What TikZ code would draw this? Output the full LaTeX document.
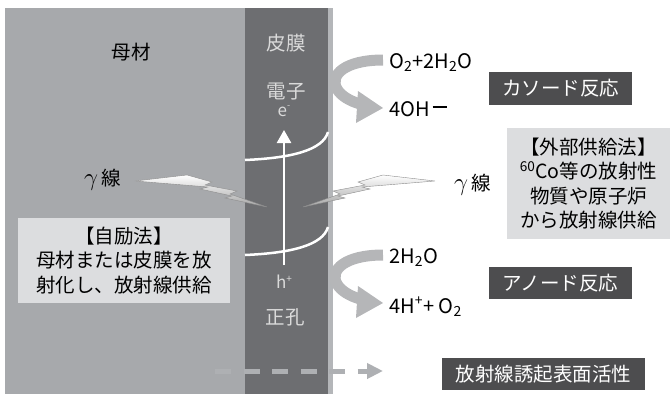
\documentclass[tikz,border=0pt]{standalone}
\usepackage{fontspec}
\setmainfont{Noto Sans CJK JP}
\usetikzlibrary{arrows.meta}
\definecolor{basegray}{HTML}{A7A9AC}
\definecolor{filmgray}{HTML}{6D6E71}
\definecolor{stripgray}{HTML}{B4B6B9}
\definecolor{darkbox}{HTML}{4D4D4F}
\definecolor{lightbox}{HTML}{DCDDDF}
\definecolor{arrowgray}{HTML}{B5B6B8}
\definecolor{filmtext}{HTML}{DADADA}
\definecolor{dashgray}{HTML}{AEB0B3}
\tikzset{
  cjk/.style={font=\fontsize{19.5pt}{24pt}\selectfont, inner sep=0pt},
  filmlabel/.style={cjk, text=filmtext},
  chem/.style={font=\fontsize{20pt}{24pt}\selectfont, inner sep=0pt, anchor=base west},
  darklabel/.style={fill=darkbox, text=white, font=\fontsize{19.5pt}{24pt}\selectfont, inner sep=0pt},
  lightlabel/.style={fill=lightbox, text=black, font=\fontsize{19.5pt}{24.5pt}\selectfont, inner sep=0pt, align=center},
  bolt/.style={draw=black!45, line width=0.4pt, shading=axis, top color=white, bottom color=black!35},
  reactband/.style={line width=11pt, arrowgray},
  whitearc/.style={draw=white, line width=2.5pt}
}
\begin{document}
\begin{tikzpicture}[x=1pt,y=-1pt]
\useasboundingbox (0,0) rectangle (670,394);
% base material and film
\fill[basegray] (5,8) rectangle (245,394);
\fill[filmgray] (245,8) rectangle (328,394);
\fill[stripgray] (328,8) rectangle (333,394);
% white arcs
\draw[whitearc] (245,160) .. controls (292,158) and (323,150) .. (328,132);
\draw[whitearc] (245,255) .. controls (292,253) and (323,245) .. (328,227);
% vertical arrow
\coordinate (vbot) at (284,265);
\coordinate (vtop) at (284,130);
\draw[white, line width=2.5pt, -{Triangle[length=13pt 0,width=14pt 0]}] (vbot) -- (vtop);
% labels
\node[cjk] (base) at (131,52) {母材};
\node[filmlabel] (film) at (286,43) {皮膜};
\node[filmlabel] (elec) at (286,92) {電子};
\node[filmlabel, font=\fontsize{17pt}{20pt}\selectfont] (em) at (284,111) {e\raisebox{0.45em}{\fontsize{9pt}{9pt}\selectfont -}};
\node[filmlabel, font=\fontsize{17pt}{20pt}\selectfont] (hp) at (284,282) {h\raisebox{0.35em}{\fontsize{10pt}{10pt}\selectfont +}};
\node[filmlabel] (hole) at (285,317) {正孔};
% bolts
\path[bolt] (435,181) -- (383,175) -- (358,182) -- (365,185) -- (333,191) -- (340,194) -- (303,207) -- (345,198) -- (338,196) -- (370,189) -- (362,187) -- cycle;
\path[bolt] (135,181) -- (187,175) -- (212,182) -- (205,185) -- (237,191) -- (230,194) -- (267,207) -- (225,198) -- (232,196) -- (200,189) -- (208,187) -- cycle;
\node[cjk, anchor=west] (gl) at (84,180) {\fontsize{25pt}{25pt}\selectfont$\gamma$\hspace{3pt}\fontsize{19.5pt}{24pt}\selectfont 線};
\node[cjk, anchor=west] (gr) at (454,185) {\fontsize{25pt}{25pt}\selectfont$\gamma$\hspace{3pt}\fontsize{19.5pt}{24pt}\selectfont 線};
% curved reaction arrows
\foreach \dy in {0,195}{
  \begin{scope}[yshift=-\dy pt]
    \draw[reactband] (383,60) .. controls (345,60) and (329,75) .. (337,89) .. controls (341,96) and (350,101) .. (360,104);
    \fill[arrowgray] (358,91) -- (383,108) -- (356,123) -- cycle;
  \end{scope}
}
% chemistry text
\node[chem] (o2) at (389,68) {O\textsubscript{2}+2H\textsubscript{2}O};
\node[chem] (oh) at (389,116) {4OH\hspace{3pt}\rule[0.42em]{0.7em}{1.4pt}};
\node[chem] (h2o) at (389,263) {2H\textsubscript{2}O};
\node[chem] (hp2) at (389,313) {4H\textsuperscript{+}+ O\textsubscript{2}};
% dark boxes
\node[darklabel, minimum width=143pt, minimum height=33pt] (cath) at (560.5,88.5) {カソード反応};
\node[darklabel, minimum width=143pt, minimum height=32pt] (anod) at (560.5,283) {アノード反応};
\node[darklabel, minimum width=203pt, minimum height=32pt] (rise) at (543.5,374) {放射線誘起表面活性};
% light boxes
\node[lightlabel, minimum width=212pt, minimum height=85pt] (self) at (124,260.5) {【自励法】\\母材または皮膜を放\\射化し、放射線供給};
\node[lightlabel, minimum width=163pt, minimum height=111pt] (ext) at (588.5,183.5) {【外部供給法】\\\textsuperscript{60}Co等の放射性\\物質や原子炉\\から放射線供給};
% dashed arrow
\coordinate (ds) at (215,371);
\coordinate (de) at (383,371);
\draw[dashgray, line width=5pt, dash pattern=on 16pt off 12.5pt, -{Triangle[length=16pt 0,width=15pt 0]}] (ds) -- (de);
\end{tikzpicture}
\end{document}
